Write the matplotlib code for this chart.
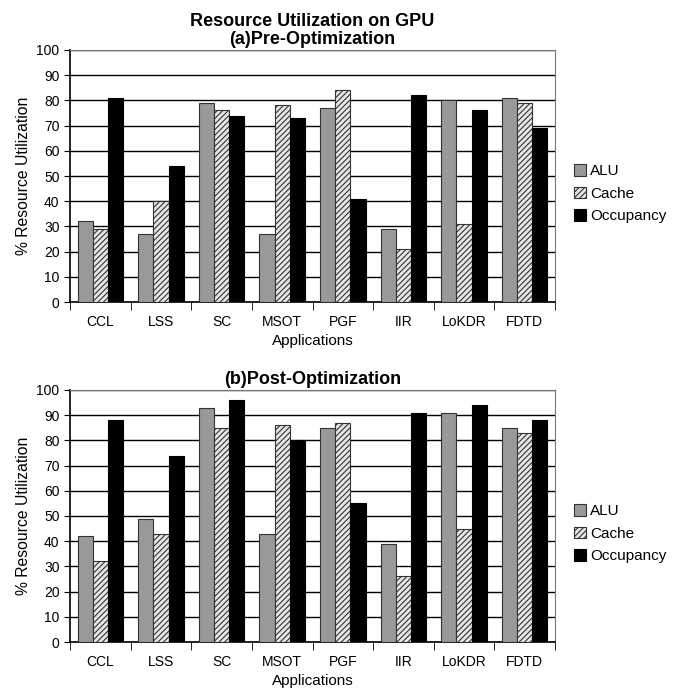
import numpy as np
import matplotlib
matplotlib.use("Agg")
import matplotlib.pyplot as plt

plt.rcParams['font.family'] = ['Liberation Sans', 'DejaVu Sans']
plt.rcParams['hatch.linewidth'] = 0.8

# Data
apps = ['CCL', 'LSS', 'SC', 'MSOT', 'PGF', 'IIR', 'LoKDR', 'FDTD']
series = ['ALU', 'Cache', 'Occupancy']

pre_alu = [32, 27, 79, 27, 77, 29, 80, 81]
pre_cache = [29, 40, 76, 78, 84, 21, 31, 79]
pre_occ = [81, 54, 74, 73, 41, 82, 76, 69]

post_alu = [42, 49, 93, 43, 85, 39, 91, 85]
post_cache = [32, 43, 85, 86, 87, 26, 45, 83]
post_occ = [88, 74, 96, 80, 55, 91, 94, 88]

yticks = list(range(0, 101, 10))

# Styles
styles = [
    dict(color='#999999', edgecolor='#333333', hatch=None),
    dict(color='#e6e6e6', edgecolor='#333333', hatch='//////'),
    dict(color='#000000', edgecolor='#000000', hatch=None),
]

fig = plt.figure(figsize=(6.83, 6.98), dpi=100)
ax1 = fig.add_axes([0.1025, 0.5673, 0.7101, 0.3611])
ax2 = fig.add_axes([0.1025, 0.0802, 0.7101, 0.3611])

x = np.arange(len(apps))
w = 0.25


def draw(ax, data, title):
    for i, (vals, st) in enumerate(zip(data, styles)):
        ax.bar(x + (i - 1) * w, vals, width=w, color=st['color'],
               edgecolor=st['edgecolor'], hatch=st['hatch'], linewidth=0.8,
               label=series[i], zorder=3)
    ax.set_xlim(-0.5, len(apps) - 0.5)
    ax.set_ylim(0, 100)
    ax.set_yticks(yticks)
    ax.tick_params(axis='y', labelsize=10, length=4, direction='out')
    ax.set_xticks(x)
    ax.set_xticklabels(apps, fontsize=10)
    ax.tick_params(axis='x', length=0, pad=9)
    ax.set_xticks(np.arange(-0.5, len(apps)), minor=True)
    ax.tick_params(axis='x', which='minor', length=6, direction='out')
    ax.yaxis.grid(True, color='black', linewidth=1.0, zorder=0)
    ax.set_axisbelow(True)
    for s in ['top', 'right']:
        ax.spines[s].set_color('#777777')
    for s in ['left', 'bottom']:
        ax.spines[s].set_linewidth(1.2)
    ax.set_xlabel('Applications', fontsize=11, labelpad=4)
    ax.set_ylabel('% Resource Utilization', fontsize=11.3)
    ax.set_title(title, fontsize=13, fontweight='bold', pad=4, linespacing=1.1)
    ax.legend(loc='center left', bbox_to_anchor=(1.01, 0.43), frameon=False,
              fontsize=11, handlelength=0.8, handleheight=0.8,
              handletextpad=0.3, labelspacing=0.55)


draw(ax1, [pre_alu, pre_cache, pre_occ],
     'Resource Utilization on GPU\n(a)Pre-Optimization')
draw(ax2, [post_alu, post_cache, post_occ], '(b)Post-Optimization')

fig.savefig('out.png', dpi=100)
